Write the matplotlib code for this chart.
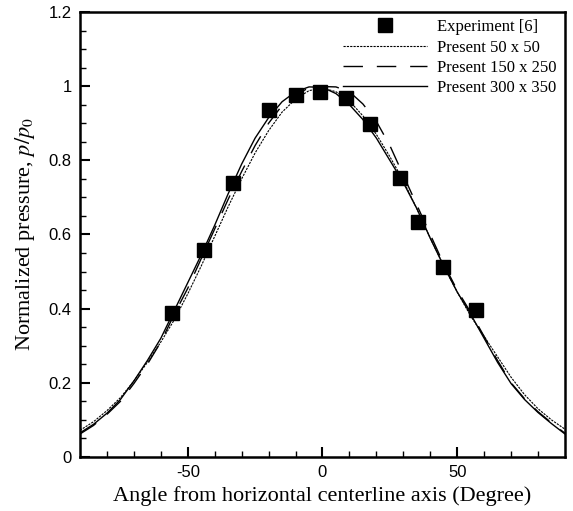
import matplotlib
matplotlib.use('Agg')
import matplotlib.pyplot as plt
import numpy as np

# Experiment [6]
exp_angle = [-55.8, -44.1, -33.3, -19.7, -9.8, -1.1, 8.8, 17.8, 28.6, 35.3, 44.9, 56.9]
exp_p = [0.387, 0.558, 0.739, 0.935, 0.976, 0.984, 0.968, 0.899, 0.753, 0.634, 0.513, 0.396]

# numerical curves, read every 5 degrees
angle = list(range(-90, 91, 5))
p_50x50 = [0.072, 0.095, 0.125, 0.160, 0.205, 0.255, 0.310, 0.370, 0.440, 0.515,
           0.595, 0.675, 0.750, 0.820, 0.880, 0.930, 0.965, 0.988, 0.995, 0.985,
           0.960, 0.920, 0.870, 0.810, 0.745, 0.670, 0.590, 0.515, 0.445, 0.380,
           0.325, 0.270, 0.215, 0.168, 0.130, 0.100, 0.075]
p_150x250 = [0.062, 0.085, 0.115, 0.150, 0.198, 0.250, 0.310, 0.385, 0.455, 0.535,
             0.615, 0.695, 0.770, 0.840, 0.900, 0.948, 0.978, 0.995, 0.999, 0.998,
             0.985, 0.952, 0.905, 0.840, 0.760, 0.680, 0.600, 0.520, 0.450, 0.390,
             0.325, 0.260, 0.200, 0.157, 0.122, 0.092, 0.064]
p_300x350 = [0.065, 0.088, 0.118, 0.155, 0.205, 0.260, 0.320, 0.395, 0.470, 0.545,
             0.625, 0.710, 0.790, 0.860, 0.915, 0.958, 0.985, 0.998, 0.997, 0.980,
             0.950, 0.910, 0.860, 0.800, 0.740, 0.670, 0.590, 0.515, 0.445, 0.385,
             0.320, 0.255, 0.198, 0.155, 0.120, 0.090, 0.062]

plt.rcParams['font.family'] = 'Liberation Serif'
plt.rcParams['mathtext.fontset'] = 'stix'
plt.rcParams['axes.unicode_minus'] = False

fig = plt.figure(figsize=(5.73, 5.11), dpi=100)
ax = fig.add_axes([0.1396, 0.1057, 0.8464, 0.8708])

ax.plot(exp_angle, exp_p, 's', color='black', markersize=10, label='Experiment [6]')
ax.plot(angle, p_50x50, color='black', lw=0.8, dashes=(2, 1), label='Present 50 x 50')
ax.plot(angle, p_150x250, color='black', lw=1.0, dashes=(14, 10), label='Present 150 x 250')
ax.plot(angle, p_300x350, color='black', lw=1.0, label='Present 300 x 350')

ax.set_xlim(-90, 90)
ax.set_ylim(0, 1.2)
ax.set_xticks([-50, 0, 50])
ax.set_xticks(np.arange(-80, 90, 10), minor=True)
ax.set_yticks([0, 0.2, 0.4, 0.6, 0.8, 1.0, 1.2])
ax.set_yticklabels(['0', '0.2', '0.4', '0.6', '0.8', '1', '1.2'])
ax.set_yticks(np.arange(0, 1.2, 0.05), minor=True)
ax.tick_params(which='both', direction='in', top=False, right=False)
ax.tick_params(which='major', length=7, width=1.5, labelsize=12, pad=6)
ax.tick_params(which='minor', length=4, width=1)
for lab in ax.get_xticklabels() + ax.get_yticklabels():
    lab.set_fontfamily('Liberation Sans')
for s in ax.spines.values():
    s.set_linewidth(1.8)

ax.set_xlabel('Angle from horizontal centerline axis (Degree)', fontsize=16, labelpad=4)
ax.set_ylabel('Normalized pressure, $p/p_0$', fontsize=16, labelpad=8)

ax.legend(loc='upper right', frameon=False, fontsize=12, handlelength=5,
          handletextpad=0.6, labelspacing=0.26, borderaxespad=0.3,
          bbox_to_anchor=(1.006, 1.01))

fig.savefig('out.png', dpi=100)
